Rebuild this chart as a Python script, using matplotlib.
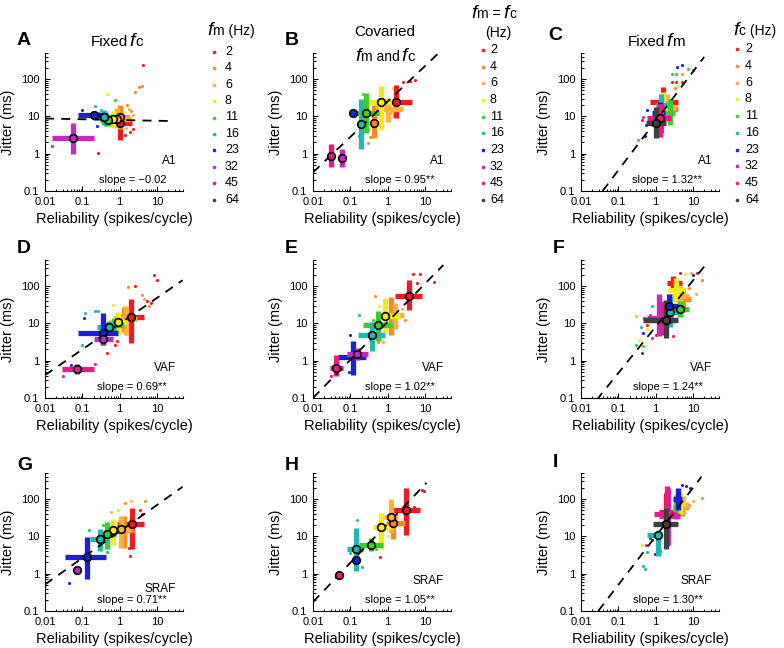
import numpy as np
import matplotlib.pyplot as plt
from matplotlib.ticker import FixedLocator, FixedFormatter, LogLocator, NullFormatter

plt.rcParams['font.family'] = ['Liberation Sans', 'DejaVu Sans']

W, H = 784, 648

# frecuencias de la leyenda (Hz) y sus colores
freqs = [2, 4, 6, 8, 11, 16, 23, 32, 45, 64]
colores = ['#ec1c24', '#f68b1f', '#fbb040', '#f2ea1c', '#3ccf2c',
           '#22b8b0', '#1e1ed8', '#c22cc2', '#eb1a86', '#404040']

# cruces: (f, x mediana, y mediana, x bajo, x alto, y bajo, y alto, circulo)
A_cruces = [
    (2, 1.05, 6.7, 0.7, 2.1, 2.4, 11, 1),
    (4, 1.0, 9.5, 0.7, 1.8, 4.5, 20, 1),
    (6, 0.85, 8.5, 0.5, 2.0, 5.0, 17, 1),
    (8, 0.68, 8.5, 0.42, 1.1, 5.3, 14, 1),
    (11, 0.5, 8.0, 0.3, 0.85, 5.5, 11, 1),
    (16, 0.38, 9.5, 0.2, 0.65, 6.0, 15, 1),
    (23, 0.21, 11, 0.078, 0.5, 9.0, 13, 1),
    (32, 0.055, 2.7, 0.015, 0.2, 1.0, 6.5, 1),
]
B_cruces = [
    (2, 1.67, 24.5, 0.76, 4.4, 8.9, 69, 1),
    (4, 0.43, 6.7, None, None, 2.6, 20, 1),
    (6, 1.0, 16, 0.45, 2.6, 7, 30, 0),
    (8, 0.68, 24.5, 0.27, 1.7, 4.3, 65, 1),
    (11, 0.27, 12.7, 0.14, 0.6, 3.6, 43, 1),
    (16, 0.19, 6.2, None, None, 1.33, 29, 1),
    (23, 0.12, 12, None, None, None, None, 1),
    (32, 0.059, 0.78, None, None, 0.45, 1.35, 1),
    (45, 0.03, 0.89, None, None, 0.45, 1.8, 1),
]
C_cruces = [
    (2, 1.6, 25, 0.7, 4.0, 12, 62, 0),
    (4, 2.5, 16, 1.3, 4.0, 9, 30, 0),
    (6, 2.0, 18, 1.0, 3.5, 8, 40, 0),
    (8, 1.6, 14, 0.9, 2.5, 6, 45, 0),
    (11, 2.4, 12, 1.2, 3.4, 6, 30, 0),
    (16, 1.4, 20, 1.0, 2.0, 8, 40, 0),
    (23, 1.3, 12, 0.8, 1.8, 5, 25, 0),
    (32, 1.4, 9, 0.7, 2.3, 3.5, 22, 0),
    (45, 1.3, 9, 0.6, 2.6, 2.8, 22, 1),
    (64, 1.0, 6.8, 0.55, 1.9, 2.6, 18, 1),
]
D_cruces = [
    (2, 2.0, 15, 0.95, 4.5, 3.0, 45, 1),
    (4, 1.3, 14, 0.7, 2.5, 6, 28, 0),
    (6, 1.5, 13, 0.8, 3.0, 5, 30, 0),
    (8, 0.9, 11, 0.5, 1.6, 5, 20, 1),
    (11, 0.7, 9, 0.4, 1.3, 5, 14, 0),
    (16, 0.53, 7.8, 0.25, 0.8, 4.9, 11.3, 1),
    (23, 0.36, 5.5, 0.078, 0.9, 2.7, 19.5, 1),
    (32, 0.36, 3.8, 0.2, 0.67, 2.7, 5.5, 1),
    (45, 0.074, 0.6, 0.028, 0.2, 0.44, 0.81, 1),
]
E_cruces = [
    (2, 3.7, 55, 1.6, 8.2, 23.5, 148, 1),
    (4, 1.2, 15.5, 0.7, 2.2, 5, 52, 0),
    (6, 1.6, 17, 0.85, 2.8, 7, 35, 0),
    (8, 0.85, 16, 0.5, 2.1, 5.5, 48, 1),
    (11, 0.56, 8.9, 0.22, 1.4, 3.3, 21, 1),
    (16, 0.38, 5, 0.16, 0.85, 1.8, 11, 1),
    (23, 0.115, 1.23, 0.047, 0.27, 0.42, 3.3, 0),
    (32, 0.15, 1.55, 0.083, 0.29, 1.07, 2.2, 1),
    (45, 0.041, 0.63, 0.029, 0.065, 0.38, 1.45, 1),
]
F_cruces = [
    (2, 3.0, 120, 2.0, 5.0, 80, 190, 0),
    (4, 5.5, 45, 3.0, 9.0, 20, 90, 0),
    (6, 4.5, 55, 2.5, 8.0, 20, 100, 0),
    (8, 3.6, 80, 2.2, 6.0, 40, 160, 0),
    (11, 4.5, 25, 2.7, 8.0, 15, 40, 1),
    (16, 2.5, 20, 1.2, 4.0, 8, 50, 1),
    (23, 2.3, 30, 1.2, 4.0, 10, 60, 1),
    (32, 1.2, 14, 0.6, 3.0, 4.5, 60, 0),
    (45, 1.6, 12, 0.5, 3.5, 5, 40, 0),
    (64, 1.9, 12.6, 0.47, 4.1, 4.1, 43, 1),
]
G_cruces = [
    (2, 2.1, 22, 0.83, 4.5, 4.5, 59, 1),
    (4, 1.3, 15, 0.7, 2.5, 5, 35, 0),
    (6, 1.1, 15.5, 0.6, 2.0, 5, 35, 1),
    (8, 0.68, 14.5, 0.4, 1.3, 6, 30, 1),
    (11, 0.47, 11.3, 0.28, 0.8, 4.5, 25, 1),
    (16, 0.29, 8.3, 0.16, 0.5, 4, 15.5, 1),
    (23, 0.135, 2.8, 0.034, 0.43, 0.74, 9.8, 1),
    (32, 0.071, 1.26, None, None, None, None, 1),
]
H_cruces = [
    (2, 3.1, 50, 1.4, 7.3, 11, 200, 1),
    (4, 1.4, 23, 0.9, 3.0, 8.4, 43, 1),
    (6, 1.2, 33, 0.8, 1.9, 12.5, 98, 1),
    (8, 0.65, 18, 0.4, 1.2, 4.5, 43, 1),
    (11, 0.35, 5.8, 0.17, 0.73, 4, 9.1, 1),
    (16, 0.14, 4.5, 0.083, 0.22, 1.18, 17, 1),
    (23, 0.14, 2.3, None, None, None, None, 1),
    (45, 0.05, 0.9, None, None, None, None, 1),
]
I_cruces = [
    (2, 1.9, 45, 1.2, 3.0, 15, 150, 0),
    (4, 5.0, 60, 3.0, 8.0, 35, 110, 0),
    (6, 5.5, 70, 3.5, 8.0, 40, 120, 0),
    (8, 4.5, 80, 3.0, 6.0, 40, 150, 0),
    (11, 3.6, 60, 3.0, 4.5, 30, 130, 0),
    (16, 1.17, 11.2, 0.57, 1.45, 3, 14, 1),
    (23, 4.0, 100, 3.0, 5.0, 50, 200, 0),
    (32, 2.1, 35, 1.2, 4.5, 6, 200, 0),
    (45, 2.0, 40, 0.9, 3.5, 5.5, 220, 0),
    (64, 1.85, 22, 0.86, 4.0, 4.5, 59, 1),
]

# puntos sueltos de cada neurona: (f, x, y)
A_puntos = [(2, 4.3, 240), (2, 0.26, 1.07), (2, 1.9, 3.9), (2, 2.3, 4.5), (2, 1.4, 3.2),
            (4, 2.6, 46), (4, 3.9, 65), (4, 3.3, 62), (4, 2.0, 14), (4, 1.6, 20),
            (6, 2.3, 11), (6, 1.5, 5.0), (6, 1.8, 16), (8, 0.45, 41), (8, 1.3, 13),
            (11, 0.75, 28), (11, 0.4, 6.0), (16, 0.22, 19), (16, 0.32, 15), (16, 0.28, 12),
            (23, 0.1, 15), (23, 0.25, 5.5), (32, 0.015, 1.6)]
B_puntos = [(2, 2.6, 85), (2, 4.0, 89), (2, 5.4, 92), (4, 0.3, 1.9), (4, 0.33, 2.8),
            (8, 1.4, 59), (11, 0.22, 41), (6, 1.2, 12), (6, 1.5, 10), (11, 0.3, 4.5),
            (16, 0.17, 3), (8, 0.9, 30)]
C_puntos = [(23, 3.8, 214), (23, 5.2, 236), (11, 7.5, 190), (32, 10, 170), (16, 2.7, 135),
            (4, 5.2, 135), (11, 3.6, 135), (2, 3.6, 85), (2, 5.2, 85), (2, 2.7, 85),
            (4, 3.3, 56), (8, 4.0, 65), (23, 0.57, 15), (45, 0.42, 8), (32, 0.47, 9.8),
            (23, 0.55, 5.8), (23, 0.52, 2.9), (11, 0.34, 2.3)]
D_puntos = [(2, 8.3, 200), (2, 9.8, 150), (4, 1.7, 97), (2, 2.6, 100), (4, 3.9, 58),
            (2, 5.3, 40), (2, 7, 35), (6, 4.5, 45), (4, 6, 30), (16, 0.12, 19),
            (16, 0.22, 21), (16, 0.27, 22), (23, 0.11, 14), (16, 0.1, 2.6), (2, 0.45, 1.6),
            (32, 0.03, 0.38), (45, 0.22, 0.83), (2, 0.75, 2.7), (8, 0.68, 32), (2, 0.85, 3.3),
            (23, 0.05, 0.75)]
E_puntos = [(2, 4.9, 210), (2, 7.3, 210), (2, 18, 130), (2, 6, 120), (4, 0.45, 53),
            (16, 0.17, 17), (23, 0.1, 5), (4, 0.56, 3.2), (6, 0.74, 3.2), (45, 0.03, 0.38),
            (23, 0.09, 0.5), (6, 2.5, 25), (4, 3, 12), (8, 0.6, 30), (11, 0.4, 12)]
F_puntos = [(2, 13, 220), (4, 17, 150), (6, 9, 220), (8, 6, 210), (2, 4.5, 220),
            (23, 10, 200), (4, 8, 90), (6, 12, 60), (32, 0.7, 17), (45, 0.5, 14),
            (2, 0.6, 9), (16, 0.4, 8), (23, 0.45, 5.5), (6, 0.3, 16), (8, 0.35, 3.5),
            (11, 0.45, 2.5), (64, 0.42, 1.6), (16, 0.3, 2.7), (32, 0.8, 4), (2, 1, 5),
            (45, 3, 4.5), (16, 0.8, 30), (8, 0.6, 7)]
G_puntos = [(4, 1.4, 80), (6, 2.0, 90), (4, 4.8, 88), (2, 3.5, 50), (2, 4.0, 40),
            (23, 0.044, 0.55), (16, 0.15, 15), (16, 0.45, 3.7), (2, 1.9, 3), (2, 1.8, 5),
            (8, 0.9, 50), (6, 0.6, 45), (11, 0.35, 20), (2, 0.5, 8)]
H_puntos = [(2, 8.1, 180), (2, 9.5, 165), (2, 5, 60), (16, 0.15, 28), (2, 0.62, 2.8),
            (16, 0.1, 3.5), (16, 0.2, 1.5), (8, 1, 10), (6, 2, 20), (11, 0.5, 4.5)]
I_puntos = [(23, 5, 245), (23, 6.5, 230), (23, 8.5, 200), (16, 0.47, 1.6), (16, 0.52, 1.3),
            (45, 0.55, 6), (8, 0.42, 5.7), (23, 0.96, 3.4), (4, 17, 110), (6, 10, 90),
            (4, 8, 70), (32, 0.8, 8), (64, 0.7, 9), (2, 1.3, 4), (16, 0.6, 3.7)]

# ajuste lineal (log-log) de cada panel
pendientes = [-0.02, 0.95, 1.32, 0.69, 1.02, 1.24, 0.71, 1.05, 1.30]
y_en_1 = [8.0, 25, 7.5, 9.8, 11, 8.1, 13.5, 21.9, 10]
x_inicio = [0.01, 0.01, 0.038, 0.01, 0.01, 0.026, 0.01, 0.01, 0.029]
x_fin = [30, 23, 20, 49, 31, 22, 49, 11, 17]
textos_pend = ['slope = \u22120.02', 'slope = 0.95**', 'slope = 1.32**',
               'slope = 0.69**', 'slope = 1.02**', 'slope = 1.24**',
               'slope = 0.71**', 'slope = 1.05**', 'slope = 1.30**']
regiones = ['A1', 'A1', 'A1', 'VAF', 'VAF', 'VAF', 'SRAF', 'SRAF', 'SRAF']
letras = ['A', 'B', 'C', 'D', 'E', 'F', 'G', 'H', 'I']

cruces = [A_cruces, B_cruces, C_cruces, D_cruces, E_cruces, F_cruces, G_cruces, H_cruces, I_cruces]
puntos = [A_puntos, B_puntos, C_puntos, D_puntos, E_puntos, F_puntos, G_puntos, H_puntos, I_puntos]

color_de = dict(zip(freqs, colores))

fig = plt.figure(figsize=(W / 100, H / 100), dpi=100)

col_izq = [45, 313, 581]
fila_sup = [53, 260, 473]
lado = 138
pos_letra = [(17, 45), (285, 45), (548, 40), (17, 253), (285, 253), (553, 253),
             (17, 470), (285, 470), (553, 467)]

for k in range(9):
    fila, col = divmod(k, 3)
    ax = fig.add_axes([col_izq[col] / W, 1 - (fila_sup[fila] + lado) / H, lado / W, lado / H])
    ax.set_facecolor('none')
    ax.set_xscale('log')
    ax.set_yscale('log')

    # puntos individuales
    for f, x, y in puntos[k]:
        ax.scatter(x, y, s=5, color=color_de[f], lw=0, zorder=1)

    # barras de error en cruz
    for f, x, y, xlo, xhi, ylo, yhi, circ in cruces[k]:
        c = color_de[f]
        if xlo is not None:
            ax.plot([xlo, xhi], [y, y], color=c, lw=3.8, solid_capstyle='butt', zorder=2)
        if ylo is not None:
            ax.plot([x, x], [ylo, yhi], color=c, lw=3.8, solid_capstyle='butt', zorder=2)

    # recta de ajuste
    xs = np.array([x_inicio[k], x_fin[k]])
    ax.plot(xs, y_en_1[k] * xs ** pendientes[k], color='black', lw=1.3,
            dashes=(5, 4), zorder=3)

    # medianas
    for f, x, y, xlo, xhi, ylo, yhi, circ in cruces[k]:
        if circ:
            ax.plot(x, y, 'o', ms=5.5, mfc=color_de[f], mec='black', mew=1.2, zorder=4)

    ax.set_xlim(0.01, 50)
    ax.set_ylim(0.1, 500)
    ax.xaxis.set_major_locator(FixedLocator([0.01, 0.1, 1, 10]))
    ax.xaxis.set_major_formatter(FixedFormatter(['0.01', '0.1', '1', '10']))
    ax.yaxis.set_major_locator(FixedLocator([0.1, 1, 10, 100]))
    ax.yaxis.set_major_formatter(FixedFormatter(['0.1', '1', '10', '100']))
    for eje in (ax.xaxis, ax.yaxis):
        eje.set_minor_locator(LogLocator(base=10, subs=np.arange(2, 10)))
        eje.set_minor_formatter(NullFormatter())
    ax.tick_params(which='both', direction='in', labelsize=8, width=0.7)
    ax.tick_params(which='major', length=3.5, pad=4)
    ax.tick_params(which='minor', length=1.8)
    for s in ('top', 'right'):
        ax.spines[s].set_visible(False)
    for s in ('left', 'bottom'):
        ax.spines[s].set_linewidth(0.8)

    ax.set_xlabel('Reliability (spikes/cycle)', fontsize=10.5, labelpad=4)
    ax.set_ylabel('Jitter (ms)', fontsize=10.5, labelpad=4)

    ax.text(0.95, 0.22 if k != 6 else 0.16, regiones[k], transform=ax.transAxes,
            ha='right', va='center', fontsize=8.5)
    ax.text(0.88, 0.08, textos_pend[k], transform=ax.transAxes,
            ha='right', va='center', fontsize=8)

# capa de anotaciones en pixeles
capa = fig.add_axes([0, 0, 1, 1])
capa.set_xlim(0, W)
capa.set_ylim(H, 0)
capa.axis('off')

for k in range(9):
    capa.text(pos_letra[k][0], pos_letra[k][1], letras[k], fontsize=14,
              fontweight='bold', ha='left', va='baseline')

def trozo(x, y, s, tam=11, italica=False):
    capa.text(x, y, s, fontsize=tam, ha='left', va='baseline',
              style='italic' if italica else 'normal')

# titulos de columna
trozo(91, 46, 'Fixed')
trozo(129, 46, 'f', 14, True)
trozo(135.5, 46, 'c')
capa.text(385, 36.5, 'Covaried', fontsize=11, ha='center', va='baseline')
trozo(355, 61, 'f', 14, True)
trozo(361, 61, 'm and', 10)
trozo(401, 61, 'f', 14, True)
trozo(407.5, 61, 'c')
trozo(628, 46, 'Fixed')
trozo(666, 46, 'f', 14, True)
trozo(672.5, 46, 'm')

# titulos de leyenda
trozo(207, 35, 'f', 14, True)
trozo(213.5, 35, 'm (Hz)', 10)
trozo(471, 18, 'f', 14, True)
trozo(477.5, 18, 'm =', 10)
trozo(503, 18, 'f', 14, True)
trozo(509.5, 18, 'c', 10)
capa.text(498, 37, '(Hz)', fontsize=10, ha='center', va='baseline')
trozo(733, 35, 'f', 14, True)
trozo(739.5, 35, 'c (Hz)', 10)

# entradas de las leyendas
leyendas = [(214, 225, 51.7, 16.45), (483, 490, 50, 16.67), (737, 745, 49, 16.78)]
for xp, xt, y0, dy in leyendas:
    for i, f in enumerate(freqs):
        yy = y0 + dy * i
        capa.plot(xp, yy, 'o', ms=2.6, color=colores[i], mec='none')
        capa.text(xt, yy, str(f), fontsize=9, ha='left', va='center')

fig.savefig('out.png', dpi=100)
